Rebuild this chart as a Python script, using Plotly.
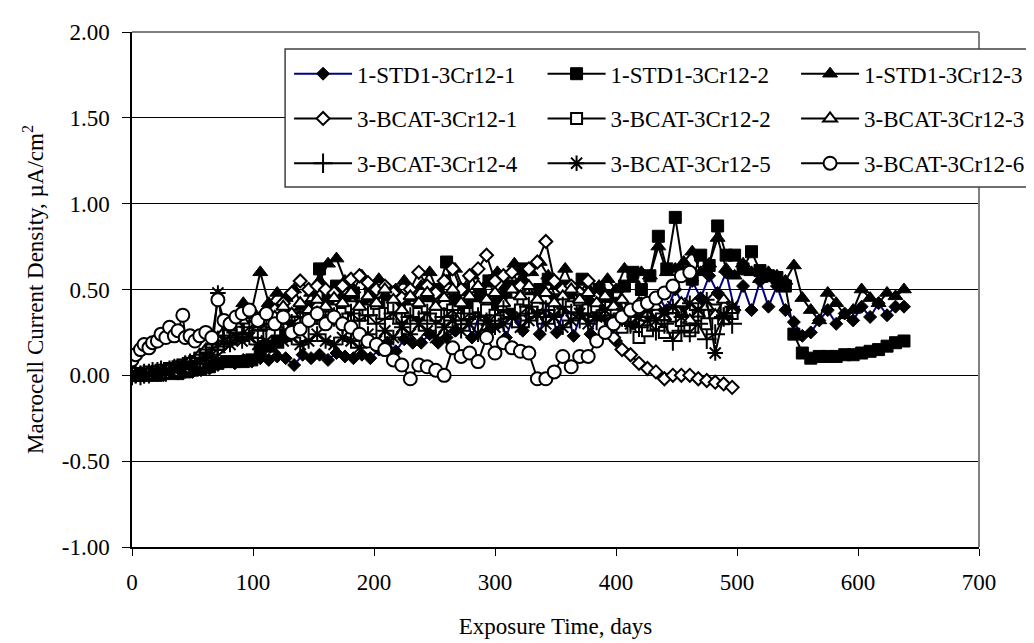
import plotly.graph_objects as go

# ---------------- data ----------------
days_std = [0, 5, 10, 15, 20, 26, 32, 38, 44, 50,
            57, 64, 71, 78, 85, 92, 99, 106, 113, 120,
            127, 134, 141, 148, 155, 162, 169, 176, 183, 190,
            197, 204, 211, 218, 225, 232, 239, 246, 253, 260,
            267, 274, 281, 288, 295, 302, 309, 316, 323, 330,
            337, 344, 351, 358, 365, 372, 379, 386, 393, 400,
            407, 414, 421, 428, 435, 442, 449, 456, 463, 470,
            477, 484, 491, 498, 505, 512, 519, 526, 533, 540,
            547, 554, 561, 568, 575, 582, 589, 596, 603, 610,
            617, 624, 631, 638]

std1_1 = [0.00, 0.00, 0.00, 0.00, 0.01, 0.00, 0.01, 0.01, 0.02, 0.02,
          0.03, 0.04, 0.06, 0.08, 0.07, 0.09, 0.08, 0.10, 0.09, 0.11,
          0.10, 0.06, 0.12, 0.10, 0.12, 0.09, 0.13, 0.11, 0.10, 0.12,
          0.10, 0.15, 0.19, 0.14, 0.21, 0.19, 0.19, 0.24, 0.19, 0.22,
          0.26, 0.40, 0.22, 0.38, 0.26, 0.42, 0.22, 0.36, 0.26, 0.44,
          0.24, 0.46, 0.25, 0.40, 0.23, 0.38, 0.24, 0.40, 0.26, 0.20,
          0.36, 0.30, 0.42, 0.34, 0.46, 0.38, 0.50, 0.40, 0.55, 0.45,
          0.58, 0.48, 0.60, 0.38, 0.52, 0.38, 0.55, 0.40, 0.52, 0.38,
          0.31, 0.23, 0.25, 0.32, 0.38, 0.30, 0.36, 0.32, 0.40, 0.34,
          0.42, 0.35, 0.40, 0.40]

std1_2 = [0.00, 0.00, 0.00, 0.01, 0.00, 0.01, 0.02, 0.01, 0.02, 0.03,
          0.04, 0.05, 0.07, 0.08, 0.08, 0.08, 0.09, 0.14, 0.17, 0.20,
          0.25, 0.30, 0.34, 0.40, 0.62, 0.45, 0.52, 0.44, 0.48, 0.40,
          0.46, 0.42, 0.47, 0.40, 0.44, 0.38, 0.42, 0.46, 0.50, 0.66,
          0.44, 0.50, 0.40, 0.46, 0.55, 0.42, 0.48, 0.52, 0.62, 0.45,
          0.50, 0.56, 0.44, 0.52, 0.48, 0.56, 0.45, 0.50, 0.46, 0.42,
          0.52, 0.60, 0.50, 0.58, 0.81, 0.62, 0.92, 0.60, 0.56, 0.70,
          0.64, 0.87, 0.70, 0.70, 0.62, 0.72, 0.61, 0.58, 0.57, 0.52,
          0.24, 0.13, 0.10, 0.11, 0.11, 0.11, 0.12, 0.12, 0.13, 0.14,
          0.15, 0.17, 0.19, 0.20]

std1_3 = [0.00, 0.00, 0.01, 0.00, 0.01, 0.02, 0.01, 0.02, 0.03, 0.04,
          0.06, 0.10, 0.15, 0.22, 0.30, 0.42, 0.38, 0.60, 0.42, 0.48,
          0.45, 0.50, 0.40, 0.48, 0.55, 0.65, 0.68, 0.55, 0.50, 0.58,
          0.52, 0.56, 0.48, 0.50, 0.55, 0.45, 0.52, 0.60, 0.48, 0.55,
          0.62, 0.50, 0.58, 0.45, 0.55, 0.60, 0.52, 0.65, 0.56, 0.60,
          0.66, 0.58, 0.52, 0.62, 0.50, 0.55, 0.48, 0.52, 0.56, 0.50,
          0.62, 0.56, 0.60, 0.58, 0.75, 0.60, 0.62, 0.66, 0.72, 0.60,
          0.65, 0.80, 0.62, 0.58, 0.65, 0.60, 0.56, 0.60, 0.58, 0.55,
          0.64, 0.45, 0.38, 0.32, 0.48, 0.42, 0.35, 0.38, 0.50, 0.45,
          0.42, 0.48, 0.46, 0.50]

days_bcat = [0, 3, 7, 10, 14, 17, 21, 24, 28, 31,
             35, 38, 42, 44, 48, 52, 56, 61, 66, 71,
             76, 81, 86, 91,
             97, 104, 111, 118, 125, 132, 139, 146, 153, 160,
             167, 174, 181, 188, 195, 202, 209, 216, 223, 230,
             237, 244, 251, 258, 265, 272, 279, 286, 293, 300,
             307, 314, 321, 328, 335, 342, 349, 356, 363, 370,
             377, 384, 391, 398, 405, 412, 419, 426, 433, 440,
             447, 454, 461, 468, 475, 482, 489, 496]

bcat_1 = [0.00, 0.00, 0.01, 0.00, 0.01, 0.02, 0.01, 0.02, 0.03, 0.02,
          0.03, 0.04, 0.05, 0.04, 0.06, 0.08, 0.07, 0.10, 0.12, 0.15,
          0.18, 0.20, 0.22, 0.25,
          0.28, 0.32, 0.30, 0.38, 0.42, 0.48, 0.55, 0.50, 0.52, 0.50,
          0.48, 0.52, 0.56, 0.58, 0.54, 0.50, 0.52, 0.48, 0.45, 0.50,
          0.60, 0.52, 0.48, 0.55, 0.62, 0.50, 0.58, 0.62, 0.70, 0.55,
          0.58, 0.60, 0.52, 0.62, 0.66, 0.78, 0.55, 0.50, 0.52, 0.48,
          0.55, 0.45, 0.35, 0.22, 0.15, 0.12, 0.07, 0.04, 0.02, -0.02,
          0.00, 0.00, 0.00, -0.02, -0.03, -0.04, -0.05, -0.07]

bcat_2 = [0.00, 0.01, 0.00, 0.01, 0.02, 0.01, 0.02, 0.03, 0.02, 0.04,
          0.03, 0.05, 0.06, 0.05, 0.07, 0.08, 0.10, 0.12, 0.14, 0.18,
          0.20, 0.22, 0.24, 0.26,
          0.28, 0.25, 0.30, 0.32, 0.30, 0.35, 0.33, 0.36, 0.40, 0.34,
          0.38, 0.36, 0.40, 0.35, 0.38, 0.42, 0.36, 0.40, 0.34, 0.38,
          0.36, 0.40, 0.35, 0.42, 0.38, 0.33, 0.36, 0.40, 0.38, 0.35,
          0.40, 0.42, 0.38, 0.44, 0.40, 0.45, 0.38, 0.42, 0.40, 0.44,
          0.38, 0.40, 0.36, 0.30, 0.28, 0.32, 0.22, 0.26, 0.30, 0.25,
          0.28, 0.32, 0.26, 0.35, 0.30, 0.38, 0.33, 0.36]

bcat_3 = [0.00, 0.00, 0.01, 0.01, 0.02, 0.01, 0.02, 0.02, 0.03, 0.04,
          0.04, 0.05, 0.06, 0.07, 0.08, 0.09, 0.12, 0.15, 0.18, 0.22,
          0.25, 0.28, 0.30, 0.32,
          0.35, 0.30, 0.38, 0.34, 0.40, 0.36, 0.42, 0.38, 0.44, 0.40,
          0.45, 0.42, 0.48, 0.40, 0.46, 0.42, 0.50, 0.44, 0.38, 0.46,
          0.42, 0.48, 0.40, 0.45, 0.50, 0.42, 0.46, 0.52, 0.44, 0.48,
          0.42, 0.50, 0.46, 0.52, 0.44, 0.48, 0.42, 0.46, 0.50, 0.44,
          0.48, 0.42, 0.46, 0.40, 0.44, 0.38, 0.42, 0.36, 0.40, 0.34,
          0.38, 0.42, 0.32, 0.36, 0.40, 0.35, 0.44, 0.38]

bcat_4 = [0.00, 0.01, 0.00, 0.01, 0.01, 0.02, 0.02, 0.03, 0.02, 0.03,
          0.04, 0.04, 0.05, 0.06, 0.07, 0.08, 0.10, 0.12, 0.15, 0.18,
          0.20, 0.22, 0.25, 0.24,
          0.28, 0.26, 0.30, 0.28, 0.32, 0.30, 0.34, 0.30, 0.35, 0.32,
          0.34, 0.30, 0.36, 0.32, 0.35, 0.30, 0.33, 0.36, 0.30, 0.34,
          0.32, 0.36, 0.30, 0.34, 0.38, 0.32, 0.36, 0.34, 0.30, 0.35,
          0.38, 0.33, 0.36, 0.40, 0.34, 0.38, 0.35, 0.40, 0.36, 0.33,
          0.36, 0.32, 0.35, 0.30, 0.34, 0.30, 0.28, 0.32, 0.26, 0.30,
          0.20, 0.26, 0.25, 0.30, 0.21, 0.24, 0.34, 0.30]

bcat_5 = [0.00, 0.00, 0.01, 0.00, 0.01, 0.01, 0.02, 0.02, 0.03, 0.02,
          0.03, 0.04, 0.04, 0.05, 0.06, 0.07, 0.08, 0.10, 0.12, 0.48,
          0.20, 0.18, 0.22, 0.20,
          0.22, 0.18, 0.20, 0.16, 0.20, 0.22, 0.18, 0.20, 0.24, 0.20,
          0.18, 0.22, 0.20, 0.16, 0.24, 0.20, 0.26, 0.22, 0.28, 0.24,
          0.30, 0.26, 0.22, 0.28, 0.32, 0.26, 0.30, 0.24, 0.32, 0.28,
          0.30, 0.34, 0.28, 0.32, 0.36, 0.30, 0.34, 0.28, 0.32, 0.36,
          0.30, 0.34, 0.38, 0.32, 0.36, 0.30, 0.34, 0.38, 0.32, 0.36,
          0.40, 0.34, 0.42, 0.38, 0.44, 0.13, 0.35, 0.40]

days_bcat6 = days_bcat[:77]
bcat_6 = [0.09, 0.12, 0.15, 0.18, 0.16, 0.19, 0.20, 0.24, 0.22, 0.28,
          0.23, 0.26, 0.35, 0.22, 0.23, 0.20, 0.23, 0.25, 0.22, 0.44,
          0.32, 0.30, 0.34, 0.36,
          0.38, 0.32, 0.36, 0.30, 0.34, 0.25, 0.27, 0.32, 0.36, 0.30,
          0.34, 0.30, 0.28, 0.24, 0.20, 0.18, 0.15, 0.09, 0.06, -0.02,
          0.06, 0.05, 0.03, 0.00, 0.16, 0.11, 0.13, 0.08, 0.22, 0.13,
          0.19, 0.16, 0.14, 0.13, -0.02, -0.02, 0.02, 0.11, 0.05, 0.11,
          0.11, 0.20, 0.25, 0.30, 0.34, 0.38, 0.40, 0.42, 0.45, 0.48,
          0.52, 0.58, 0.60]

series_names = ["1-STD1-3Cr12-1", "1-STD1-3Cr12-2", "1-STD1-3Cr12-3",
                "3-BCAT-3Cr12-1", "3-BCAT-3Cr12-2", "3-BCAT-3Cr12-3",
                "3-BCAT-3Cr12-4", "3-BCAT-3Cr12-5", "3-BCAT-3Cr12-6"]

x_tick_vals = [0, 100, 200, 300, 400, 500, 600, 700]
y_tick_vals = [-1.0, -0.5, 0.0, 0.5, 1.0, 1.5, 2.0]
y_tick_text = ["-1.00", "-0.50", "0.00", "0.50", "1.00", "1.50", "2.00"]

# ---------------- figure ----------------
FONT = "Liberation Serif, Times New Roman, serif"
FS = 23
fig = go.Figure()

series = [
    (days_std, std1_1, "diamond", "black", "#000080", 10, 1.0),
    (days_std, std1_2, "square", "black", "black", 12, 1.0),
    (days_std, std1_3, "triangle-up", "black", "black", 13, 1.0),
    (days_bcat, bcat_1, "diamond", "white", "black", 10, 2.0),
    (days_bcat, bcat_2, "square", "white", "black", 11, 2.0),
    (days_bcat, bcat_3, "triangle-up", "white", "black", 12, 2.0),
    (days_bcat, bcat_4, "cross-thin", "black", "black", 14, 2.0),
    (days_bcat, bcat_5, "asterisk", "black", "black", 13, 2.0),
    (days_bcat6, bcat_6, "circle", "white", "black", 13, 2.0),
]

legend_ids = ["legend"] + ["legend%d" % i for i in range(2, 10)]

for (xs, ys, sym, fill, lcol, size, mlw), name, lid in zip(series, series_names, legend_ids):
    fig.add_trace(go.Scatter(
        x=xs, y=ys, name=name, mode="lines+markers",
        line=dict(color=lcol, width=2),
        marker=dict(symbol=sym, color=fill, size=size,
                    line=dict(color="black", width=mlw)),
        legend=lid,
    ))

L, R, T, B = 124, 58, 21, 104
W, H = 1034, 643
pw, ph = W - L - R, H - T - B


def px_x(p):
    return (p - L) / pw


def px_y(p):
    return (H - B - p) / ph


col_left = [282, 537, 792]
row_mid = [63, 108, 153]
legends = {}
for k, lid in enumerate(legend_ids):
    r, c = divmod(k, 3)
    legends[lid] = dict(orientation="v", itemwidth=58,
                        font=dict(family=FONT, size=FS, color="black"),
                        bgcolor="rgba(0,0,0,0)", borderwidth=0,
                        xanchor="left", yanchor="middle",
                        x=px_x(col_left[c]), y=px_y(row_mid[r]),
                        itemsizing="trace")

fig.update_layout(
    width=W, height=H,
    margin=dict(l=L, r=R, t=T, b=B),
    paper_bgcolor="white", plot_bgcolor="white",
    font=dict(family=FONT, size=FS, color="black"),
    showlegend=True,
    xaxis=dict(range=[0, 700], tickvals=x_tick_vals, showgrid=False,
               zeroline=False, showline=True, linecolor="black", linewidth=2,
               ticks="outside", ticklen=7, tickcolor="black", tickwidth=1,
               ticklabelstandoff=6,
               tickfont=dict(family=FONT, size=FS, color="black"),
               title=dict(text="Exposure Time, days", standoff=24,
                          font=dict(family=FONT, size=FS, color="black"))),
    yaxis=dict(range=[-1, 2], tickvals=y_tick_vals, ticktext=y_tick_text,
               showgrid=True, gridcolor="black", gridwidth=1,
               zeroline=False, showline=True, linecolor="black", linewidth=1.5,
               ticks="outside", ticklen=8, tickcolor="black", tickwidth=1,
               ticklabelstandoff=8,
               tickfont=dict(family=FONT, size=FS, color="black"),
               title=dict(text="Macrocell Current Density, \u00b5A/cm<sup>2</sup>",
                          standoff=12,
                          font=dict(family=FONT, size=FS, color="black"))),
    shapes=[
        dict(type="line", xref="paper", yref="paper", x0=0, x1=1, y0=1, y1=1,
             line=dict(color="#808080", width=2), layer="above"),
        dict(type="line", xref="paper", yref="paper", x0=1, x1=1, y0=0, y1=1,
             line=dict(color="#808080", width=2), layer="above"),
        dict(type="rect", xref="paper", yref="paper",
             x0=px_x(278), x1=px_x(1031), y0=px_y(177), y1=px_y(38),
             line=dict(color="#404040", width=1.5), fillcolor="white",
             layer="above"),
    ],
    **legends,
)

fig.write_html("out.html")
